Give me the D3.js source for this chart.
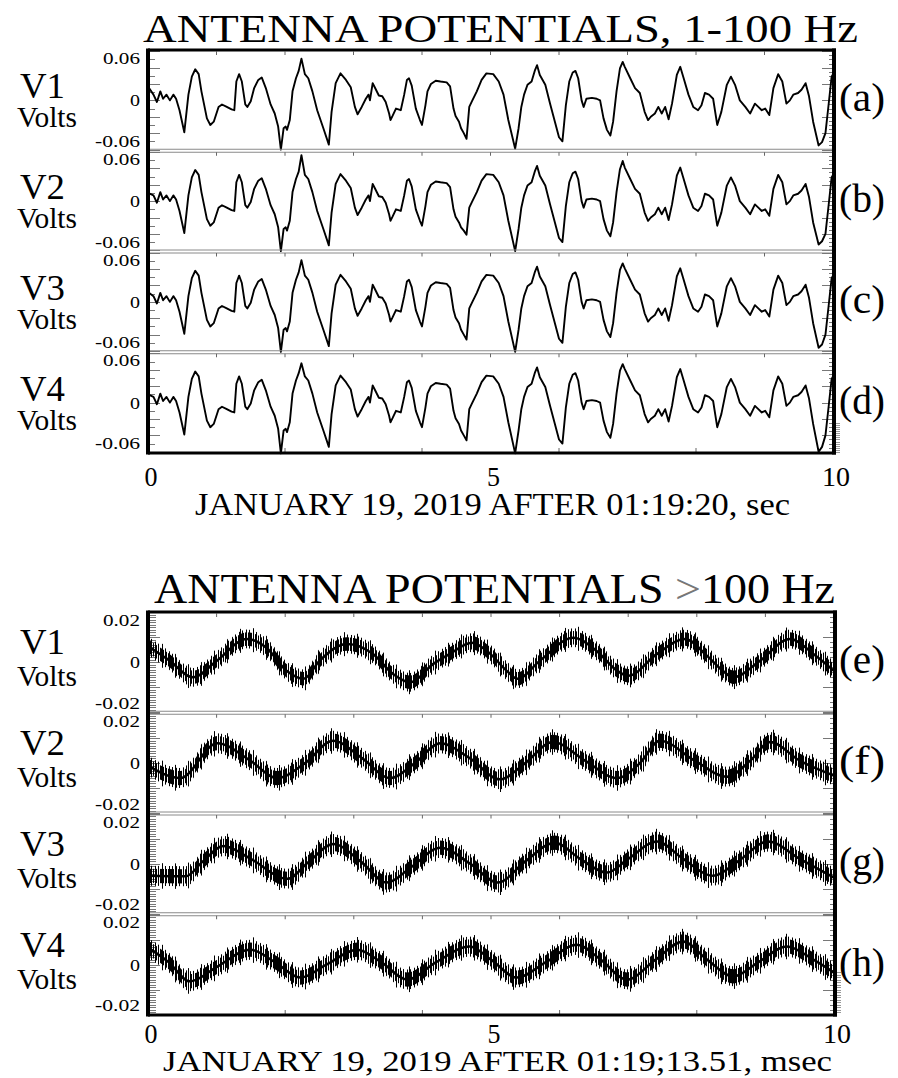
<!DOCTYPE html>
<html>
<head>
<meta charset="utf-8">
<script src="https://cdn.jsdelivr.net/npm/d3@7"></script>
<style>
  body { margin: 0; background: #fff; }
</style>
</head>
<body>
<svg width="898" height="1078"></svg>
<script>
// ---------- 1-100 Hz antenna potentials (seconds, volts) ----------
var lfTime = [
  0.00,0.08,0.13,0.18,0.22,0.27,0.32,0.37,0.41,0.46,
  0.53,0.59,0.64,0.69,0.74,0.78,0.86,0.91,0.96,1.03,
  1.08,1.15,1.22,1.26,1.29,1.33,1.37,1.42,1.45,1.50,
  1.55,1.61,1.66,1.72,1.79,1.85,1.90,1.94,1.98,2.01,
  2.03,2.07,2.11,2.16,2.20,2.24,2.29,2.34,2.40,2.47,
  2.56,2.64,2.68,2.74,2.81,2.89,2.96,3.02,3.06,3.12,
  3.18,3.22,3.24,3.28,3.31,3.37,3.42,3.47,3.52,3.54,
  3.57,3.62,3.69,3.74,3.78,3.81,3.85,3.91,3.97,4.00,
  4.05,4.08,4.13,4.20,4.27,4.36,4.41,4.46,4.49,4.54,
  4.57,4.61,4.65,4.69,4.73,4.80,4.87,4.94,5.04,5.12,
  5.19,5.26,5.36,5.41,5.45,5.49,5.54,5.60,5.65,5.68,
  5.72,5.80,5.87,5.94,6.00,6.05,6.10,6.15,6.20,6.24,
  6.28,6.33,6.36,6.40,6.48,6.55,6.60,6.65,6.70,6.75,
  6.79,6.84,6.89,6.93,6.96,7.04,7.11,7.18,7.25,7.30,
  7.34,7.40,7.45,7.50,7.55,7.60,7.65,7.72,7.77,7.82,
  7.89,7.96,8.03,8.08,8.13,8.19,8.25,8.31,8.37,8.45,
  8.51,8.57,8.64,8.72,8.79,8.86,8.91,8.96,9.01,9.07,
  9.13,9.20,9.26,9.32,9.37,9.42,9.49,9.54,9.60,9.65,
  9.71,9.79,9.84,9.89,9.94,9.98,10.00
];
var lfV1 = [
  0.017,0.007,-0.002,0.011,0.002,0.007,0.000,0.007,0.002,-0.012,
  -0.039,0.007,0.029,0.038,0.032,0.011,-0.022,-0.030,-0.026,-0.008,
  -0.005,-0.008,-0.011,-0.012,0.023,0.032,0.023,-0.005,-0.008,-0.001,
  0.015,0.025,0.028,0.015,-0.005,-0.016,-0.032,-0.060,-0.034,-0.032,
  -0.036,-0.024,0.011,0.027,0.036,0.051,0.032,0.027,0.011,-0.012,
  -0.034,-0.054,-0.014,0.021,0.033,0.025,0.016,-0.008,-0.017,-0.008,
  0.002,0.007,0.000,0.021,0.016,0.006,0.005,-0.002,-0.016,-0.024,
  -0.019,-0.010,-0.012,0.007,0.025,0.027,0.018,-0.010,-0.024,-0.030,
  -0.006,0.011,0.020,0.024,0.023,0.022,0.017,-0.010,-0.019,-0.026,
  -0.034,-0.040,-0.047,-0.008,-0.001,0.011,0.025,0.033,0.032,0.023,
  0.007,-0.024,-0.059,-0.034,-0.008,0.007,0.019,0.023,0.037,0.043,
  0.031,0.019,-0.004,-0.026,-0.045,-0.050,-0.006,0.023,0.034,0.036,
  0.027,0.000,-0.008,0.002,0.003,0.002,0.000,-0.022,-0.036,-0.043,
  -0.026,0.011,0.039,0.047,0.041,0.027,0.015,0.009,-0.014,-0.024,
  -0.020,-0.016,-0.008,-0.016,-0.008,-0.023,-0.004,0.031,0.041,0.027,
  0.007,-0.008,-0.012,-0.006,0.009,0.007,0.002,-0.030,-0.014,0.019,
  0.029,0.019,0.000,-0.008,-0.016,-0.004,-0.008,-0.012,-0.010,-0.018,
  0.015,0.032,0.023,-0.004,0.000,0.007,0.009,0.013,0.021,0.005,
  -0.026,-0.055,-0.051,-0.040,-0.002,0.029,0.032
];
var lfV2 = [
  0.010,0.007,-0.002,0.011,0.002,0.007,0.000,0.007,0.002,-0.012,
  -0.039,0.007,0.029,0.038,0.032,0.011,-0.022,-0.030,-0.026,-0.008,
  -0.005,-0.008,-0.011,-0.012,0.023,0.032,0.023,-0.005,-0.008,-0.001,
  0.015,0.025,0.028,0.015,-0.005,-0.016,-0.032,-0.061,-0.034,-0.032,
  -0.036,-0.024,0.011,0.027,0.036,0.056,0.032,0.027,0.011,-0.012,
  -0.034,-0.054,-0.014,0.021,0.033,0.025,0.016,-0.008,-0.017,-0.008,
  0.002,0.007,0.000,0.021,0.016,0.006,0.005,-0.002,-0.016,-0.024,
  -0.019,-0.010,-0.012,0.007,0.025,0.027,0.018,-0.010,-0.024,-0.030,
  -0.006,0.011,0.020,0.024,0.023,0.022,0.017,-0.010,-0.019,-0.026,
  -0.032,-0.036,-0.041,-0.008,-0.001,0.011,0.025,0.033,0.032,0.023,
  0.007,-0.024,-0.061,-0.034,-0.008,0.007,0.019,0.023,0.037,0.043,
  0.031,0.019,-0.004,-0.026,-0.045,-0.050,-0.006,0.023,0.034,0.036,
  0.027,0.000,-0.008,0.002,0.003,0.002,0.000,-0.022,-0.036,-0.043,
  -0.026,0.011,0.039,0.049,0.041,0.027,0.015,0.009,-0.014,-0.024,
  -0.020,-0.016,-0.008,-0.016,-0.008,-0.023,-0.004,0.031,0.041,0.027,
  0.007,-0.008,-0.012,-0.006,0.009,0.007,0.002,-0.030,-0.014,0.019,
  0.029,0.019,0.000,-0.008,-0.016,-0.004,-0.008,-0.012,-0.010,-0.018,
  0.015,0.032,0.023,-0.004,0.000,0.007,0.009,0.013,0.021,0.005,
  -0.026,-0.053,-0.049,-0.040,-0.002,0.029,0.032
];
var lfV3 = [
  0.012,0.007,-0.002,0.011,0.002,0.007,0.000,0.007,0.002,-0.012,
  -0.039,0.007,0.029,0.038,0.032,0.011,-0.022,-0.030,-0.026,-0.008,
  -0.005,-0.008,-0.011,-0.012,0.023,0.032,0.023,-0.005,-0.008,-0.001,
  0.015,0.025,0.028,0.015,-0.005,-0.016,-0.032,-0.061,-0.034,-0.032,
  -0.036,-0.024,0.011,0.027,0.036,0.051,0.032,0.027,0.011,-0.012,
  -0.034,-0.054,-0.014,0.021,0.033,0.025,0.016,-0.008,-0.017,-0.008,
  0.002,0.007,0.000,0.021,0.016,0.006,0.005,-0.002,-0.016,-0.024,
  -0.019,-0.010,-0.012,0.007,0.025,0.027,0.018,-0.010,-0.024,-0.030,
  -0.006,0.011,0.020,0.024,0.023,0.022,0.017,-0.010,-0.019,-0.026,
  -0.034,-0.040,-0.046,-0.008,-0.001,0.011,0.025,0.033,0.032,0.023,
  0.007,-0.024,-0.061,-0.034,-0.008,0.007,0.019,0.023,0.037,0.043,
  0.031,0.019,-0.004,-0.026,-0.045,-0.050,-0.006,0.023,0.034,0.036,
  0.027,0.000,-0.008,0.002,0.003,0.002,0.000,-0.022,-0.036,-0.043,
  -0.026,0.011,0.039,0.047,0.041,0.027,0.015,0.009,-0.014,-0.024,
  -0.020,-0.016,-0.008,-0.016,-0.008,-0.023,-0.004,0.031,0.041,0.027,
  0.007,-0.008,-0.012,-0.006,0.009,0.007,0.002,-0.030,-0.014,0.019,
  0.029,0.019,0.000,-0.008,-0.016,-0.004,-0.008,-0.012,-0.010,-0.018,
  0.015,0.032,0.023,-0.004,0.000,0.007,0.009,0.013,0.021,0.005,
  -0.026,-0.056,-0.052,-0.040,-0.002,0.029,0.032
];
var lfV4 = [
  0.010,0.007,-0.002,0.011,0.002,0.007,0.000,0.007,0.002,-0.012,
  -0.039,0.007,0.029,0.038,0.032,0.011,-0.022,-0.030,-0.026,-0.008,
  -0.005,-0.008,-0.011,-0.012,0.023,0.032,0.023,-0.005,-0.008,-0.001,
  0.015,0.025,0.028,0.015,-0.005,-0.016,-0.032,-0.062,-0.034,-0.032,
  -0.036,-0.024,0.011,0.027,0.036,0.048,0.032,0.027,0.011,-0.012,
  -0.034,-0.054,-0.014,0.021,0.033,0.025,0.016,-0.008,-0.017,-0.008,
  0.002,0.007,0.000,0.021,0.016,0.006,0.005,-0.002,-0.016,-0.024,
  -0.019,-0.010,-0.012,0.007,0.025,0.027,0.018,-0.010,-0.024,-0.030,
  -0.006,0.011,0.020,0.024,0.023,0.022,0.017,-0.010,-0.019,-0.026,
  -0.034,-0.040,-0.046,-0.008,-0.001,0.011,0.025,0.033,0.032,0.023,
  0.007,-0.024,-0.062,-0.034,-0.008,0.007,0.019,0.023,0.037,0.043,
  0.031,0.019,-0.004,-0.026,-0.045,-0.050,-0.006,0.023,0.034,0.036,
  0.027,0.000,-0.008,0.002,0.003,0.002,0.000,-0.022,-0.036,-0.043,
  -0.026,0.011,0.039,0.047,0.041,0.027,0.015,0.009,-0.014,-0.024,
  -0.020,-0.016,-0.008,-0.016,-0.008,-0.023,-0.004,0.031,0.041,0.027,
  0.007,-0.008,-0.012,-0.006,0.009,0.007,0.002,-0.030,-0.014,0.019,
  0.029,0.019,0.000,-0.008,-0.016,-0.004,-0.008,-0.012,-0.010,-0.018,
  0.015,0.032,0.023,-0.004,0.000,0.007,0.009,0.013,0.021,0.005,
  -0.026,-0.060,-0.054,-0.040,-0.002,0.029,0.032
];

// ---------- >100 Hz antenna potentials: band centre [msec, volts] ----------
var hfV1 = [[0,0.0066],[0.3,0.001],[0.66,-0.006],[1.0,0.0006],[1.44,0.0094],[1.73,0.0058],
  [2.02,-0.0034],[2.27,-0.0066],[2.5,0.0006],[2.9,0.0074],[3.28,0.0034],[3.57,-0.0046],
  [3.82,-0.008],[4.16,-0.0006],[4.4,0.0034],[4.72,0.0079],[4.99,0.0034],[5.23,-0.0034],
  [5.39,-0.0066],[5.71,0.0006],[6.2,0.0099],[6.54,0.0046],[6.84,-0.0034],[7.0,-0.0054],
  [7.42,0.0034],[7.83,0.0094],[8.15,0.0026],[8.38,-0.0034],[8.53,-0.006],[8.92,0.0006],
  [9.36,0.0094],[9.7,0.0034],[10,-0.0034]];
var hfV2 = [[0,-0.001],[0.47,-0.006],[1.01,0.008],[1.49,0.001],[1.88,-0.006],[2.29,0],
  [2.7,0.009],[3.12,0.002],[3.53,-0.006],[3.89,0],[4.26,0.008],[4.69,0.002],[5.13,-0.0065],
  [5.5,0],[5.9,0.0085],[6.37,0.001],[6.84,-0.006],[7.17,0],[7.46,0.009],[7.97,0.001],
  [8.44,-0.0055],[8.78,0.001],[9.07,0.0085],[9.5,0.001],[10,-0.005]];
var hfV3 = [[0,-0.0048],[0.55,-0.005],[0.8,0.001],[1.1,0.0072],[1.5,0.002],[2.03,-0.006],
  [2.35,0.001],[2.7,0.008],[3.1,0.001],[3.48,-0.0075],[3.85,-0.001],[4.26,0.0065],[4.7,0],
  [5.1,-0.0075],[5.5,0.001],[5.93,0.0085],[6.3,0.002],[6.69,-0.0035],[7.0,0.002],[7.42,0.009],
  [7.8,0.002],[8.24,-0.0048],[8.6,0.001],[9.04,0.009],[9.5,0.002],[10,-0.0055]];
var hfV4 = [[0,0.0068],[0.3,0.001],[0.61,-0.0067],[1.0,-0.001],[1.49,0.006],[1.85,0.001],
  [2.22,-0.0052],[2.6,0],[3.05,0.006],[3.4,0.001],[3.78,-0.006],[4.2,0.001],[4.69,0.0073],
  [5.0,0.002],[5.38,-0.0052],[5.8,0.001],[6.25,0.008],[6.6,0.002],[6.98,-0.006],[7.4,0.002],
  [7.8,0.0093],[8.15,0.002],[8.53,-0.0047],[8.9,0.001],[9.31,0.0073],[9.7,0.002],[10,-0.0032]];
// half-width of the high frequency scatter around the centre, volts
var hfNoise = [0.0030, 0.0032, 0.0032, 0.0032];

var channelNames = ['V1', 'V2', 'V3', 'V4'];
var lfLetters = ['(a)', '(b)', '(c)', '(d)'];
var hfLetters = ['(e)', '(f)', '(g)', '(h)'];
var lfTickLabels = ['0.06', '0', '-0.06'];
var hfTickLabels = ['0.02', '0', '-0.02'];
var xTickValues = [0, 5, 10];

var FONT = "'Liberation Serif', 'Times New Roman', 'Liberation Sans', sans-serif";
var svg = d3.select('svg');

// hatching used to render the dense noise band: three widths, sparser outside
var defs = svg.append('defs');
function hatchPattern(id, w, bars) {
  var pt = defs.append('pattern').attr('id', id)
    .attr('patternUnits', 'userSpaceOnUse').attr('width', w).attr('height', 10);
  bars.forEach(function(b) {
    pt.append('rect').attr('x', b[0]).attr('width', b[1]).attr('height', 10).attr('fill', '#000');
  });
}
hatchPattern('hatchIn', 5, [[0, 2], [3, 1]]);
hatchPattern('hatchMid', 7, [[1, 1], [4, 1]]);
hatchPattern('hatchOut', 13, [[6, 1]]);

function addText(g, str, x, y, size, len, anchor) {
  var t = g.append('text').attr('x', x).attr('y', y)
    .style('font-family', FONT).attr('font-size', size).text(str);
  if (len) t.attr('textLength', len).attr('lengthAdjust', 'spacingAndGlyphs');
  if (anchor) t.attr('text-anchor', anchor);
  return t;
}

function drawChart(o) {
  var g = svg.append('g');
  var x = d3.scaleLinear().domain([0, 10]).range([o.left, o.right]);
  var band = d3.scaleBand().domain(channelNames).range([o.top, o.bottom]);
  var bw = band.bandwidth();

  // title (with the lighter '>' glyph when present)
  var title = g.append('text').attr('x', o.titleX).attr('y', o.titleY)
    .style('font-family', FONT).attr('font-size', o.titleSize)
    .attr('textLength', o.titleW).attr('lengthAdjust', 'spacingAndGlyphs');
  o.title.forEach(function(part, k) {
    title.append('tspan').text(part).style('fill', k === 1 ? '#777' : '#000');
  });

  channelNames.forEach(function(name, i) {
    var top = band(name), bot = top + bw, mid = top + bw / 2;
    var y = d3.scaleLinear().domain([-o.yMax, o.yMax]).range([bot, top]);
    var p = g.append('g');

    // thin double separator between stacked panels
    if (i > 0) {
      [top - 1.5, top + 1.5].forEach(function(yy) {
        p.append('line').attr('x1', o.left).attr('x2', o.right)
          .attr('y1', yy).attr('y2', yy)
          .attr('stroke', '#8a8a8a').attr('stroke-width', 1);
      });
    }

    // x ticks hanging from the panel top
    p.selectAll('.xt').data(d3.range(1, 10)).enter().append('line')
      .attr('x1', x).attr('x2', x)
      .attr('y1', top + 1.5).attr('y2', top + 5)
      .attr('stroke', '#666').attr('stroke-width', 1);

    // y ticks left and right
    var nMinL = Math.round(o.yLim / o.minorL), nMinR = Math.round(o.yLim / o.minorR);
    var nMaj = Math.round(o.yLim / o.major);
    var tk = function(vals, x1, x2, col) {
      p.selectAll(null).data(vals).enter().append('line')
        .attr('x1', x1).attr('x2', x2)
        .attr('y1', function(d) { return Math.round(y(d)) + 0.5; })
        .attr('y2', function(d) { return Math.round(y(d)) + 0.5; })
        .attr('stroke', col || '#777').attr('stroke-width', 1);
    };
    tk(d3.range(-nMinL, nMinL + 1).map(function(k) { return k * o.minorL; }), o.left + 2, o.left + 2 + o.minorLenL);
    tk(d3.range(-nMaj, nMaj + 1).map(function(k) { return k * o.major; }), o.left + 2, o.left + 12);
    tk(d3.range(-nMinR, nMinR + 1).map(function(k) { return k * o.minorR; }), o.right - 4, o.right);
    tk(d3.range(-nMaj, nMaj + 1).map(function(k) { return k * o.major; }), o.right - 11, o.right);
    // small comb just outside the frame on the lowest panel
    if (i === channelNames.length - 1) {
      tk(d3.range(o.comb[0], o.comb[1] + 1).map(function(k) { return k * o.combStep; }),
        o.right + 3, o.right + 7, '#999');
    }

    // y tick labels
    addText(p, o.tickLabels[0], 140, top + 14, 17, 37, 'end');
    addText(p, o.tickLabels[1], 140, mid + 6, 17, 10, 'end');
    addText(p, o.tickLabels[2], 140, bot - 4, 17, 45, 'end');

    // channel name, units and panel letter
    addText(p, name, 20, mid + o.nameDy, 35, 45);
    addText(p, 'Volts', 17, mid + o.voltsDy, 29, 60);
    addText(p, o.letters[i], 839, mid + 11, 40, 46);

    // traces
    if (o.kind === 'lf') {
      var pts = d3.zip(lfTime, o.series[i]);
      p.append('path').datum(pts)
        .attr('fill', 'none').attr('stroke', '#000').attr('stroke-width', 1.9)
        .attr('stroke-linejoin', 'round')
        .attr('d', d3.line()
          .x(function(d) { return x(d[0]); })
          .y(function(d) { return y(d[1]); }));
    } else {
      var hw = hfNoise[i];
      var curve = d3.curveMonotoneX;
      var bandArea = function(k) {
        return d3.area().curve(curve)
          .x(function(d) { return x(d[0]); })
          .y0(function(d) { return y(d[1] - hw * k); })
          .y1(function(d) { return y(d[1] + hw * k); });
      };
      p.append('path').datum(o.series[i]).attr('fill', 'url(#hatchOut)').attr('d', bandArea(1.6));
      p.append('path').datum(o.series[i]).attr('fill', 'url(#hatchMid)').attr('d', bandArea(1.25));
      p.append('path').datum(o.series[i]).attr('fill', 'url(#hatchIn)').attr('d', bandArea(0.9));
      p.append('path').datum(o.series[i])
        .attr('fill', 'none').attr('stroke', '#000').attr('stroke-width', 2.5)
        .attr('d', d3.line().curve(curve)
          .x(function(d) { return x(d[0]); })
          .y(function(d) { return y(d[1]); }));
    }
  });

  // ticks along the bottom edge
  g.selectAll(null).data([2, 4, 6, 8]).enter().append('line')
    .attr('x1', x).attr('x2', x)
    .attr('y1', o.bottom - 5).attr('y2', o.bottom)
    .attr('stroke', '#666');

  // heavy frame
  g.append('line').attr('x1', o.left).attr('x2', o.left)
    .attr('y1', o.top - 1.5).attr('y2', o.bottom + 1.5)
    .attr('stroke', '#000').attr('stroke-width', 4);
  g.append('line').attr('x1', o.right + 1).attr('x2', o.right + 1)
    .attr('y1', o.top - 1.5).attr('y2', o.bottom + 1.5)
    .attr('stroke', '#000').attr('stroke-width', 4);
  g.append('line').attr('x1', o.left).attr('x2', o.right + 3)
    .attr('y1', o.top).attr('y2', o.top)
    .attr('stroke', '#000').attr('stroke-width', 3);
  g.append('line').attr('x1', o.left).attr('x2', o.right + 3)
    .attr('y1', o.bottom).attr('y2', o.bottom)
    .attr('stroke', '#000').attr('stroke-width', 3);

  // x tick labels and axis title
  xTickValues.forEach(function(v) {
    addText(g, String(v), x(v) + 3, o.xLabelY, 28, v === 10 ? 28 : 13, 'middle');
  });
  addText(g, o.xTitle, o.xTitleX, o.xTitleY, o.xTitleSize, o.xTitleW);
}

drawChart({
  kind: 'lf', series: [lfV1, lfV2, lfV3, lfV4], letters: lfLetters, tickLabels: lfTickLabels,
  top: 50, bottom: 453, left: 148, right: 833,
  yMax: 0.0615, yLim: 0.06, major: 0.02, minorL: 0.01, minorR: 0.005, minorLenL: 5,
  comb: [-24, -10], combStep: 0.0025,
  title: ['ANTENNA POTENTIALS, 1-100  Hz'], titleX: 143, titleY: 42, titleSize: 40, titleW: 715,
  nameDy: -2, voltsDy: 27,
  xLabelY: 486,
  xTitle: 'JANUARY 19, 2019 AFTER 01:19:20, sec', xTitleX: 195, xTitleY: 515, xTitleSize: 31, xTitleW: 595
});

drawChart({
  kind: 'hf', series: [hfV1, hfV2, hfV3, hfV4], letters: hfLetters, tickLabels: hfTickLabels,
  top: 612, bottom: 1015, left: 148, right: 834,
  yMax: 0.0202, yLim: 0.02, major: 0.01, minorL: 0.001, minorR: 0.002, minorLenL: 6,
  comb: [-19, -3], combStep: 0.001,
  title: ['ANTENNA POTENTIALS ', '>', '100 Hz'], titleX: 154, titleY: 603, titleSize: 42, titleW: 681,
  nameDy: -8, voltsDy: 24,
  xLabelY: 1043,
  xTitle: 'JANUARY 19, 2019 AFTER 01:19;13.51, msec', xTitleX: 163, xTitleY: 1071, xTitleSize: 30, xTitleW: 669
});
</script>
</body>
</html>
